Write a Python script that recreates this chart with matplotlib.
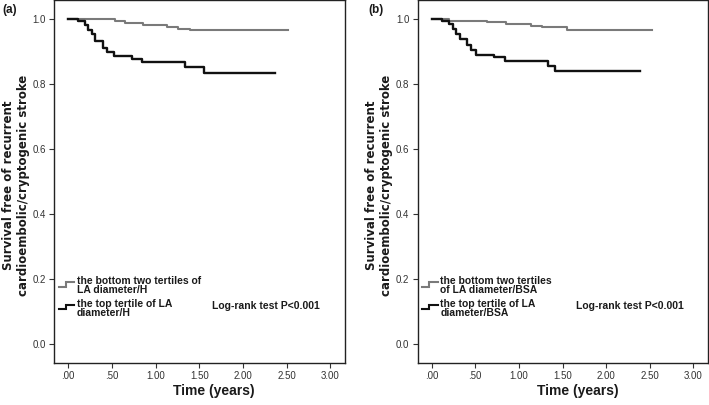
import matplotlib
matplotlib.use('Agg')
import matplotlib.pyplot as plt

plt.rcParams['font.family'] = ['Liberation Sans Narrow', 'Liberation Sans', 'DejaVu Sans']

# ── Kaplan-Meier step data ──
a_low_t = [0, 0.535, 0.65, 0.86, 1.13, 1.26, 1.40, 2.52]
a_low_s = [1.0, 0.994, 0.989, 0.982, 0.976, 0.971, 0.968, 0.968]
a_top_t = [0, 0.115, 0.19, 0.23, 0.27, 0.31, 0.40, 0.44, 0.52, 0.73, 0.85, 1.34, 1.56, 2.37]
a_top_s = [1.0, 0.993, 0.982, 0.968, 0.955, 0.932, 0.912, 0.898, 0.886, 0.878, 0.867, 0.853, 0.834, 0.834]

b_low_t = [0, 0.20, 0.64, 0.855, 1.14, 1.26, 1.55, 2.52]
b_low_s = [1.0, 0.994, 0.99, 0.985, 0.98, 0.975, 0.967, 0.967]
b_top_t = [0, 0.12, 0.20, 0.24, 0.28, 0.32, 0.41, 0.45, 0.51, 0.72, 0.84, 1.33, 1.41, 2.39]
b_top_s = [1.0, 0.993, 0.985, 0.97, 0.955, 0.94, 0.919, 0.904, 0.891, 0.884, 0.871, 0.856, 0.84, 0.84]

x_ticks = [0, 0.5, 1.0, 1.5, 2.0, 2.5, 3.0]
x_ticklabels = ['.00', '.50', '1.00', '1.50', '2.00', '2.50', '3.00']
y_ticks = [0.0, 0.2, 0.4, 0.6, 0.8, 1.0]
y_ticklabels = ['0.0', '0.2', '0.4', '0.6', '0.8', '1.0']

panel_tags = ['(a)', '(b)']
legend_a = ['the bottom two tertiles of\nLA diameter/H', 'the top tertile of LA\ndiameter/H']
legend_b = ['the bottom two tertiles\nof LA diameter/BSA', 'the top tertile of LA\ndiameter/BSA']
logrank = 'Log-rank test P<0.001'
ylab = 'Survival free of recurrent\ncardioembolic/cryptogenic stroke'
xlab = 'Time (years)'

GRAY = '#7a7a7a'
BLACK = '#111111'
TXT = '#1a1a1a'

fig = plt.figure(figsize=(7.09, 4.05), dpi=100)
ax_a = fig.add_axes([0.0766, 0.1044, 0.41, 0.895])
ax_b = fig.add_axes([0.589, 0.1044, 0.41, 0.895])


def km_panel(ax, low_t, low_s, top_t, top_s, leg, tag, tag_x):
    ax.step(low_t, low_s, where='post', color=GRAY, lw=1.5, zorder=3)
    ax.step(top_t, top_s, where='post', color=BLACK, lw=1.7, zorder=4)

    ax.set_xlim(-0.16, 3.17)
    ax.set_ylim(-0.057, 1.058)
    ax.set_xticks(x_ticks)
    ax.set_xticklabels(x_ticklabels)
    ax.set_yticks(y_ticks)
    ax.set_yticklabels(y_ticklabels)
    ax.tick_params(direction='out', length=3.5, width=0.8, color='#333333',
                   labelsize=7, labelcolor='#333333', pad=2.5)
    for sp in ax.spines.values():
        sp.set_color('#222222')
        sp.set_linewidth(1.0)

    ax.set_ylabel(ylab, fontsize=8.5, fontweight='bold', color=TXT, linespacing=1.2,
                  family=['DejaVu Sans'])
    ax.yaxis.set_label_coords(-0.085, 0.49)
    ax.set_xlabel(xlab, fontsize=10, fontweight='bold', color=TXT)
    ax.xaxis.set_label_coords(0.55, -0.060)

    # legend: small step symbols + two-line labels
    sym = [(GRAY, 0.175, 0.191), (BLACK, 0.107, 0.122)]
    text_y = [0.181, 0.110]
    for (c, lo, hi), ty, lbl in zip(sym, text_y, leg):
        ax.plot([-0.11, -0.03, -0.03, 0.07], [lo, lo, hi, hi], color=c, lw=1.5,
                solid_joinstyle='miter', zorder=3)
        ax.text(0.10, ty, lbl, fontsize=7.5, fontweight='bold', color=TXT,
                ha='left', va='center', linespacing=0.95)
    ax.text(1.65, 0.116, logrank, fontsize=7.5, fontweight='bold', color=TXT,
            ha='left', va='center')

    fig.text(tag_x, 0.975, tag, fontsize=8.5, fontweight='bold', color=TXT,
             ha='left', va='center', family=['Liberation Sans', 'DejaVu Sans'])


km_panel(ax_a, a_low_t, a_low_s, a_top_t, a_top_s, legend_a, panel_tags[0], 0.004)
km_panel(ax_b, b_low_t, b_low_s, b_top_t, b_top_s, legend_b, panel_tags[1], 0.519)

fig.savefig('out.png', dpi=100)
